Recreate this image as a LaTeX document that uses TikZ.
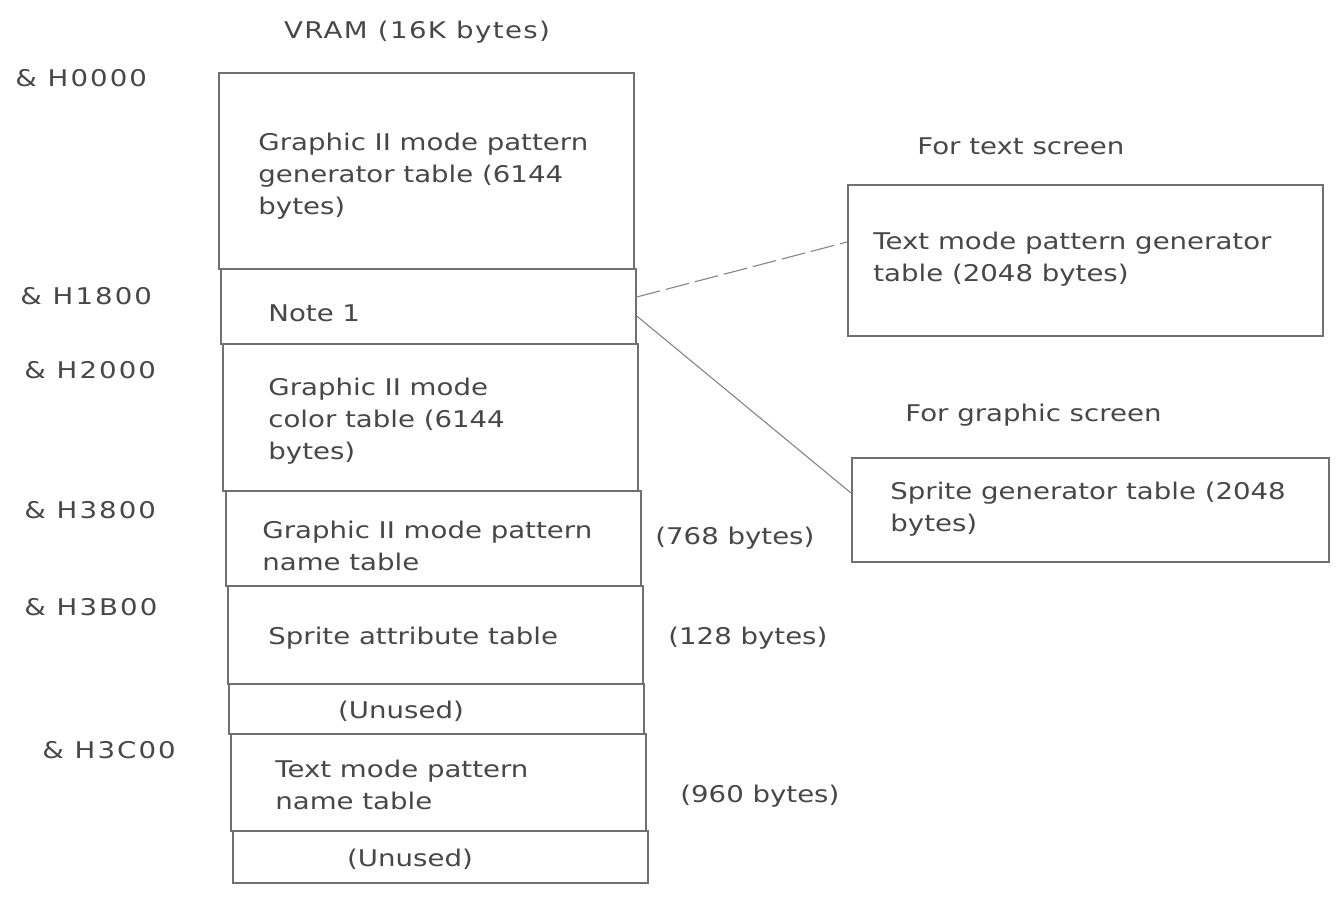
\documentclass[tikz,border=0pt]{standalone}
\usepackage{fontspec}
\setmainfont{DejaVu Sans}[FakeStretch=1.2]
\newfontfamily\widefont{DejaVu Sans}[FakeStretch=1.2, LetterSpace=9]
\newfontfamily\titlefont{DejaVu Sans}[FakeStretch=1.2, LetterSpace=6]
\definecolor{ink}{HTML}{474747}
\definecolor{rulec}{HTML}{707070}
\begin{document}
\begin{tikzpicture}[x=0.5pt,y=-0.5pt,
  lbl/.style={font=\fontsize{11.5}{16}\selectfont, text=ink, inner sep=0pt, align=left},
  addr/.style={lbl, font=\widefont\fontsize{11.5}{16}\selectfont, anchor=west},
  cell/.style={draw=rulec, line width=0.85pt, minimum width=207.5pt, inner sep=0pt, anchor=north west},
  sidebox/.style={draw=rulec, line width=0.85pt, inner sep=0pt, anchor=north west},
  link/.style={draw=rulec!85, line width=0.55pt}]
\useasboundingbox (0,0) rectangle (1336,899);
\fill[white] (0,0) rectangle (1336,899);

% title
\node[lbl, font=\titlefont\fontsize{11.5}{16}\selectfont] (title) at (417,32) {VRAM (16K bytes)};

% memory stack cells
\node[cell, minimum height=98pt]   (c1) at (218,72)  {};
\node[cell, minimum height=37.5pt] (c2) at (220,268) {};
\node[cell, minimum height=73.5pt] (c3) at (222,343) {};
\node[cell, minimum height=47.5pt] (c4) at (225,490) {};
\node[cell, minimum height=49pt]   (c5) at (227,585) {};
\node[cell, minimum height=25pt]   (c6) at (228,683) {};
\node[cell, minimum height=48.5pt] (c7) at (230,733) {};
\node[cell, minimum height=26pt]   (c8) at (232,830) {};

% cell texts
\node[lbl, anchor=west] (t1) at (258,176) {Graphic II mode pattern\\generator table (6144\\bytes)};
\node[lbl, anchor=west] (t2) at (268,313) {Note 1};
\node[lbl, anchor=west] (t3) at (268,421) {Graphic II mode\\color table (6144\\bytes)};
\node[lbl, anchor=west] (t4) at (262,546) {Graphic II mode pattern\\name table};
\node[lbl, anchor=west] (t5) at (268,638) {Sprite attribute table};
\node[lbl] (t6) at (401,711) {(Unused)};
\node[lbl, anchor=west] (t7) at (275,785) {Text mode pattern\\name table};
\node[lbl] (t8) at (410,859) {(Unused)};

% addresses
\node[addr] (a1) at (15,78)  {\& H0000};
\node[addr] (a2) at (20,296) {\& H1800};
\node[addr] (a3) at (24,370) {\& H2000};
\node[addr] (a4) at (24,510) {\& H3800};
\node[addr] (a5) at (24,607) {\& H3B00};
\node[addr] (a6) at (42,750) {\& H3C00};

% sizes
\node[lbl, anchor=west] (s1) at (655,538) {(768 bytes)};
\node[lbl, anchor=west] (s2) at (668,638) {(128 bytes)};
\node[lbl, anchor=west] (s3) at (680,796) {(960 bytes)};

% right side
\node[lbl, anchor=west] (h1) at (917,146) {For text screen};
\node[sidebox, minimum width=237.5pt, minimum height=75.5pt] (b1) at (847,184) {};
\node[lbl, anchor=west] (bt1) at (873,259) {Text mode pattern generator\\table (2048 bytes)};

\node[lbl, anchor=west] (h2) at (905,415) {For graphic screen};
\node[sidebox, minimum width=238.5pt, minimum height=52pt] (b2) at (851,457) {};
\node[lbl, anchor=west] (bt2) at (890,509) {Sprite generator table (2048\\bytes)};

% connectors
\draw[link, dash pattern=on 12pt off 3pt] (c2.east |- 0,297) -- (b1.west |- 0,242);
\draw[link] (c2.east |- 0,316) -- (b2.west |- 0,493);
\end{tikzpicture}
\end{document}
